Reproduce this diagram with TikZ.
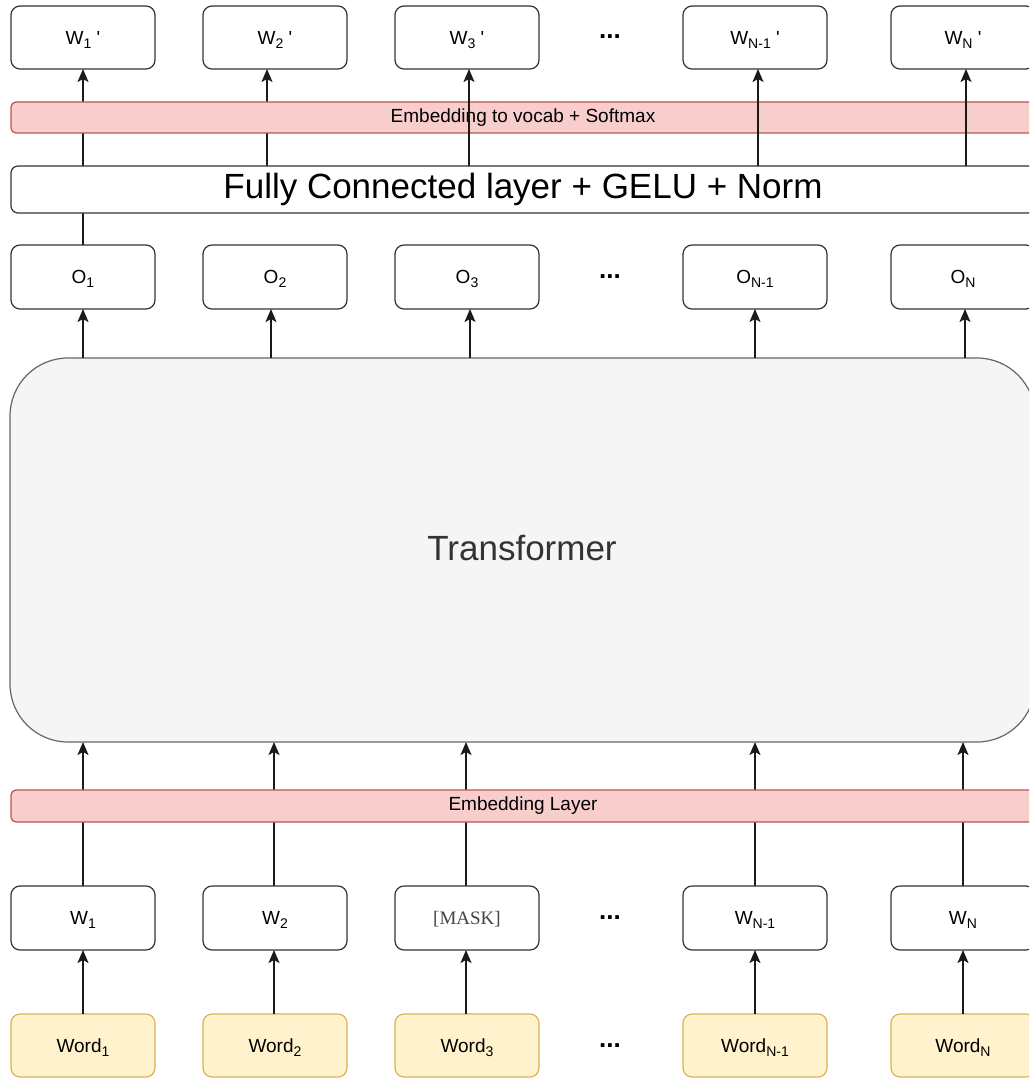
\documentclass[tikz,border=0pt]{standalone}
\usepackage{fontspec}
\setmainfont{Liberation Sans}
\newfontfamily\serifx{Liberation Serif}
\usetikzlibrary{arrows.meta}
\definecolor{barfill}{HTML}{F8CECC}
\definecolor{barline}{HTML}{B85450}
\definecolor{wordfill}{HTML}{FFF2CC}
\definecolor{wordline}{HTML}{D6B656}
\definecolor{trfill}{HTML}{F5F5F5}
\definecolor{trline}{HTML}{666666}
\definecolor{trtext}{HTML}{333333}
\definecolor{boxline}{HTML}{333333}
\definecolor{arrline}{HTML}{1A1A1A}
\definecolor{maskcol}{HTML}{444444}
\pgfdeclarelayer{under}
\pgfsetlayers{under,main}
\newcommand{\sbx}[1]{\raisebox{-0.4ex}{\fontsize{14}{16}\selectfont #1}}
\begin{document}
\begin{tikzpicture}[x=1pt,y=-1pt,
  cell/.style={draw=boxline, line width=1.2pt, rounded corners=9pt, fill=white,
    minimum width=144pt, minimum height=64pt, inner sep=0pt, outer sep=0pt,
    font=\fontsize{19}{22}\selectfont, text depth=0pt},
  wordbox/.style={cell, draw=wordline, fill=wordfill},
  bar/.style={draw=barline, fill=barfill, line width=1.2pt, rounded corners=5pt,
    minimum width=1024pt, minimum height=31pt, inner sep=0pt, outer sep=0pt,
    font=\fontsize{19}{22}\selectfont},
  dotsnode/.style={inner sep=0pt, outer sep=0pt, font=\fontsize{26}{28}\selectfont\bfseries},
  arr/.style={draw=arrline, line width=1.3pt, -{Stealth[length=13pt,width=11pt,inset=3pt]}},
  plain/.style={draw=arrline, line width=1.3pt}
]
\useasboundingbox (0,0) rectangle (1029,1078);
\clip (0,0) rectangle (1029,1078);

% Transformer
\node[draw=trline, fill=trfill, line width=1.2pt, rounded corners=58pt,
  minimum width=1025pt, minimum height=384pt, inner sep=0pt, outer sep=0pt]
  (tr) at (522.5,550) {};
\node[text=trtext, font=\fontsize{35}{40}\selectfont] (trl) at (522,548) {Transformer};

% top output boxes
\node[cell, minimum height=63pt] (w1p) at (83,37.5) {W\sbx{1} \textquotesingle};
\node[cell, minimum height=63pt] (w2p) at (275,37.5) {W\sbx{2} \textquotesingle};
\node[cell, minimum height=63pt] (w3p) at (467,37.5) {W\sbx{3} \textquotesingle};
\node[cell, minimum height=63pt] (w4p) at (755,37.5) {W\sbx{N-1} \textquotesingle};
\node[cell, minimum height=63pt] (w5p) at (963,37.5) {W\sbx{N} \textquotesingle};
\node[dotsnode] (d1) at (610,37) {...};

% FC layer
\node[draw=boxline, fill=white, line width=1.2pt, rounded corners=7pt,
  minimum width=1024pt, minimum height=47pt, inner sep=0pt, outer sep=0pt,
  font=\fontsize{35}{38}\selectfont] (fc) at (523,189.5) {Fully Connected layer + GELU + Norm};

% O boxes
\node[cell] (o1) at (83,277) {O\sbx{1}};
\node[cell] (o2) at (275,277) {O\sbx{2}};
\node[cell] (o3) at (467,277) {O\sbx{3}};
\node[cell] (o4) at (755,277) {O\sbx{N-1}};
\node[cell] (o5) at (963,277) {O\sbx{N}};
\node[dotsnode] (d2) at (610,277) {...};

% input W boxes
\node[cell] (w1) at (83,918) {W\sbx{1}};
\node[cell] (w2) at (275,918) {W\sbx{2}};
\node[cell] (w3) at (467,918) {\serifx\color{maskcol}[MASK]};
\node[cell] (w4) at (755,918) {W\sbx{N-1}};
\node[cell] (w5) at (963,918) {W\sbx{N}};
\node[dotsnode] (d3) at (610,918) {...};

% words
\node[wordbox, minimum height=63pt] (word1) at (83,1045.5) {Word\sbx{1}};
\node[wordbox, minimum height=63pt] (word2) at (275,1045.5) {Word\sbx{2}};
\node[wordbox, minimum height=63pt] (word3) at (467,1045.5) {Word\sbx{3}};
\node[wordbox, minimum height=63pt] (word4) at (755,1045.5) {Word\sbx{N-1}};
\node[wordbox, minimum height=63pt] (word5) at (963,1045.5) {Word\sbx{N}};
\node[dotsnode] (d4) at (610,1046) {...};

% connectors hidden behind bars / FC box
\begin{pgfonlayer}{under}
\draw[arr] (o1.north) -- (w1p.south);
\draw[arr] ([xshift=-8pt]w2p.south |- fc.north) -- ([xshift=-8pt]w2p.south);
\draw[arr] (w1.north) -- (w1.north |- tr.south);
\draw[arr] ([xshift=-1pt]w2.north) -- ([xshift=-1pt]w2.north |- tr.south);
\draw[arr] ([xshift=-1pt]w3.north) -- ([xshift=-1pt]w3.north |- tr.south);
\draw[arr] (w4.north) -- (w4.north |- tr.south);
\draw[arr] (w5.north) -- (w5.north |- tr.south);
\end{pgfonlayer}

% bars
\node[bar] (soft) at (523,117.5) {Embedding to vocab + Softmax};
\node[bar, minimum height=32pt] (emb) at (523,806) {Embedding Layer};

% connectors over the softmax bar
\draw[arr] ([xshift=2pt]w3p.south |- fc.north) -- ([xshift=2pt]w3p.south);
\draw[arr] ([xshift=3pt]w4p.south |- fc.north) -- ([xshift=3pt]w4p.south);
\draw[arr] ([xshift=3pt]w5p.south |- fc.north) -- ([xshift=3pt]w5p.south);

% transformer to outputs
\draw[arr] (o1.south |- tr.north) -- (o1.south);
\draw[arr] ([xshift=-4pt]o2.south |- tr.north) -- ([xshift=-4pt]o2.south);
\draw[arr] ([xshift=3pt]o3.south |- tr.north) -- ([xshift=3pt]o3.south);
\draw[arr] (o4.south |- tr.north) -- (o4.south);
\draw[arr] ([xshift=2pt]o5.south |- tr.north) -- ([xshift=2pt]o5.south);

% words to inputs
\draw[arr] (word1.north) -- (w1.south);
\draw[arr] ([xshift=-1pt]word2.north) -- ([xshift=-1pt]w2.south);
\draw[arr] ([xshift=-1pt]word3.north) -- ([xshift=-1pt]w3.south);
\draw[arr] (word4.north) -- (w4.south);
\draw[arr] (word5.north) -- (w5.south);
\end{tikzpicture}
\end{document}
